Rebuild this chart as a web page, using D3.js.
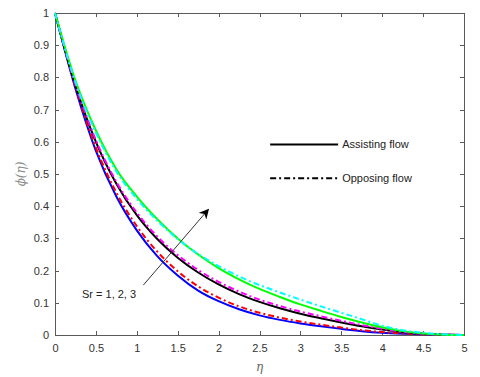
<!DOCTYPE html>
<html lang="en">
<head>
<meta charset="utf-8">
<script src="https://d3js.org/d3.v7.min.js"></script>
<style>
  body { margin: 0; background: #fff; }
  .axis path, .axis line { stroke: #5a5a5a; shape-rendering: crispEdges; }
  .axis text { font-family: "Liberation Sans", Arial, sans-serif; font-size: 11px; fill: #333; }
  .lbl { font-family: "Liberation Sans", Arial, sans-serif; font-size: 11px; fill: #222; }
</style>
</head>
<body>
<svg id="chart" width="480" height="377"></svg>
<script>
// eta grid and phi(eta)
var eta = [0, 0.25, 0.5, 0.75, 1, 1.25, 1.5, 1.75, 2, 2.25, 2.5, 2.75, 3, 3.25, 3.5, 3.75, 4, 4.25, 4.5, 4.75, 5];

var assistSr1 = [1, 0.765, 0.572, 0.43, 0.325, 0.245, 0.185, 0.138, 0.105, 0.08, 0.061, 0.047, 0.036, 0.027, 0.019, 0.012, 0.007, 0.004, 0.002, 0.001, 0];
var opposeSr1 = [1, 0.77, 0.582, 0.442, 0.338, 0.259, 0.198, 0.151, 0.116, 0.089, 0.069, 0.054, 0.042, 0.032, 0.023, 0.015, 0.009, 0.005, 0.002, 0.001, 0];
var assistSr2 = [1, 0.775, 0.6, 0.47, 0.372, 0.298, 0.24, 0.194, 0.157, 0.127, 0.103, 0.083, 0.066, 0.052, 0.039, 0.027, 0.017, 0.009, 0.004, 0.001, 0];
var opposeSr2 = [1, 0.777, 0.605, 0.476, 0.38, 0.306, 0.248, 0.202, 0.165, 0.135, 0.11, 0.09, 0.073, 0.058, 0.044, 0.031, 0.019, 0.01, 0.004, 0.001, 0];
var assistSr3 = [1, 0.79, 0.635, 0.515, 0.43, 0.36, 0.3, 0.25, 0.208, 0.173, 0.143, 0.118, 0.095, 0.075, 0.056, 0.039, 0.024, 0.012, 0.005, 0.001, 0];
var opposeSr3 = [1, 0.785, 0.628, 0.508, 0.423, 0.355, 0.298, 0.252, 0.214, 0.182, 0.155, 0.132, 0.11, 0.089, 0.069, 0.049, 0.029, 0.015, 0.007, 0.002, 0];

var xTicks = [0, 0.5, 1, 1.5, 2, 2.5, 3, 3.5, 4, 4.5, 5];
var yTicks = [0, 0.1, 0.2, 0.3, 0.4, 0.5, 0.6, 0.7, 0.8, 0.9, 1];

var series = [
  {vals: assistSr1, color: "#0000ff", dash: null},
  {vals: opposeSr1, color: "#ff0000", dash: "6,3,2,3"},
  {vals: assistSr2, color: "#000000", dash: null},
  {vals: opposeSr2, color: "#ff00ff", dash: "6,3,2,3"},
  {vals: assistSr3, color: "#00ff00", dash: null},
  {vals: opposeSr3, color: "#00ffff", dash: "6,3,2,3"}
];

var margin = {top: 13, right: 16, bottom: 42, left: 55};
var svg = d3.select("#chart");
var width = 480 - margin.left - margin.right;
var height = 377 - margin.top - margin.bottom;
var g = svg.append("g").attr("transform", "translate(" + margin.left + "," + margin.top + ")");

var x = d3.scaleLinear().domain([0, 5]).range([0, width]);
var y = d3.scaleLinear().domain([0, 1]).range([height, 0]);

// axes, ticks pointing inwards, box on all sides
g.append("g").attr("class", "axis")
  .attr("transform", "translate(0," + height + ")")
  .call(d3.axisBottom(x).tickValues(xTicks).tickSizeInner(-4).tickSizeOuter(0).tickPadding(9).tickFormat(d3.format("")));
g.append("g").attr("class", "axis")
  .call(d3.axisLeft(y).tickValues(yTicks).tickSizeInner(-4).tickSizeOuter(0).tickPadding(6).tickFormat(d3.format("")));
g.append("g").attr("class", "axis")
  .call(d3.axisTop(x).tickValues(xTicks).tickSizeInner(-4).tickSizeOuter(0).tickFormat(""));
g.append("g").attr("class", "axis")
  .attr("transform", "translate(" + width + ",0)")
  .call(d3.axisRight(y).tickValues(yTicks).tickSizeInner(-4).tickSizeOuter(0).tickFormat(""));

var line = d3.line()
  .x(function(d, i) { return x(eta[i]); })
  .y(function(d) { return y(d); })
  .curve(d3.curveMonotoneX);

g.selectAll(".curve")
  .data(series)
  .enter().append("path")
  .attr("class", "curve")
  .attr("fill", "none")
  .attr("stroke", function(d) { return d.color; })
  .attr("stroke-width", 2)
  .attr("stroke-dasharray", function(d) { return d.dash; })
  .attr("d", function(d) { return line(d.vals); });

// legend
var legend = [
  {name: "Assisting flow", dash: null, yv: 0.592},
  {name: "Opposing flow", dash: "6,3,2,3", yv: 0.487}
];
var lg = g.selectAll(".legend").data(legend).enter().append("g")
  .attr("transform", function(d) { return "translate(" + x(2.63) + "," + y(d.yv) + ")"; });
lg.append("line")
  .attr("x1", 0).attr("x2", 68)
  .attr("stroke", "#000").attr("stroke-width", 2)
  .attr("stroke-dasharray", function(d) { return d.dash; });
lg.append("text").attr("class", "lbl")
  .attr("x", 72).attr("dy", "0.35em")
  .text(function(d) { return d.name; });

// arrow annotation
svg.append("defs").append("marker")
  .attr("id", "head").attr("viewBox", "0 0 10 10")
  .attr("refX", 9).attr("refY", 5)
  .attr("markerWidth", 10).attr("markerHeight", 10)
  .attr("markerUnits", "userSpaceOnUse")
  .attr("orient", "auto")
  .append("path").attr("d", "M0,0 L10,5 L0,10 L3,5 Z").attr("fill", "#000");

g.append("line")
  .attr("x1", x(1.08)).attr("y1", y(0.155))
  .attr("x2", x(1.875)).attr("y2", y(0.39))
  .attr("stroke", "#333").attr("stroke-width", 1)
  .attr("marker-end", "url(#head)");

g.append("text").attr("class", "lbl")
  .attr("x", x(0.33)).attr("y", y(0.127)).attr("dy", "0.35em")
  .text("Sr = 1, 2, 3");

// axis labels
svg.append("text")
  .attr("x", margin.left + x(2.5)).attr("y", 371)
  .attr("text-anchor", "middle")
  .style("font-family", "'DejaVu Serif', serif").style("font-style", "italic")
  .style("font-size", "12px").style("fill", "#666")
  .text("η");

svg.append("text")
  .attr("transform", "translate(25," + (margin.top + y(0.5)) + ") rotate(-90)")
  .attr("text-anchor", "middle")
  .style("font-family", "'DejaVu Serif', serif").style("font-style", "italic")
  .style("font-size", "12px").style("fill", "#888")
  .text("ϕ(η)");
</script>
</body>
</html>
